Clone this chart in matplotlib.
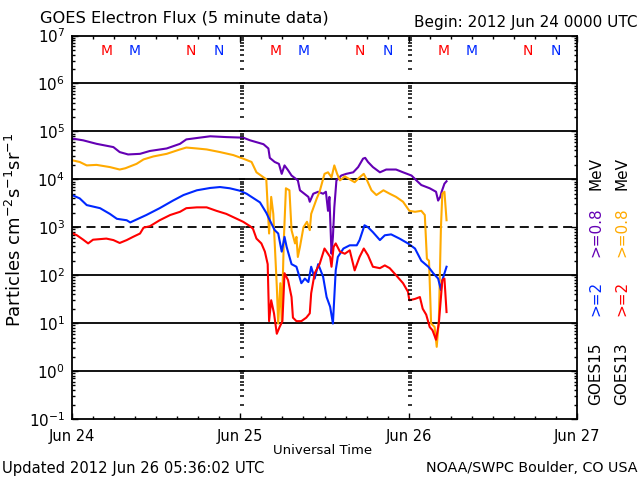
import numpy as np
import matplotlib
matplotlib.use('Agg')
import matplotlib.pyplot as plt
import matplotlib.transforms as mtransforms
from matplotlib.ticker import LogLocator, FixedLocator, MultipleLocator, NullFormatter

# hours after 2012 Jun 24 00:00 UTC, flux in particles cm^-2 s^-1 sr^-1
g15_hi_t = [0, 1.6, 3.5, 5.9, 6.8, 8.0, 9.7, 11.1, 13.5, 15.4, 16.3, 18.2, 19.7, 22.0, 24.4,
            25.4, 27.3, 28.0, 28.2, 28.9, 29.5, 29.9, 30.3, 30.8, 31.3, 32.2, 32.5, 33.7, 33.9,
            34.4, 35.1, 35.8, 36.2, 36.5, 36.7, 37.0, 37.2, 37.4, 37.7, 38.4, 39.1, 40.1, 40.8,
            41.5, 41.8, 42.2, 42.9, 43.9, 44.8, 46.2, 47.2, 48.4, 49.1, 49.8, 51.0, 51.9, 52.2,
            52.5, 52.7, 53.1, 53.4]
g15_hi = [7.1e4, 6.5e4, 5.5e4, 4.7e4, 3.7e4, 3.3e4, 3.4e4, 3.9e4, 4.4e4, 5.5e4, 6.8e4, 7.4e4,
          7.9e4, 7.6e4, 7.4e4, 6.5e4, 5.4e4, 4.4e4, 2.8e4, 2.3e4, 2.1e4, 1.3e4, 1.95e4, 1.55e4,
          1.2e4, 9.5e3, 5.9e3, 4.3e3, 3.4e3, 5.0e3, 5.5e3, 5.0e3, 5.5e3, 2.2e3, 4.3e3, 2.8e2,
          6.3e2, 2.6e3, 9.5e3, 1.2e4, 1.3e4, 1.4e4, 1.8e4, 2.7e4, 2.8e4, 2.3e4, 1.8e4, 1.4e4,
          1.6e4, 1.6e4, 1.4e4, 1.2e4, 9.5e3, 7.6e3, 6.5e3, 5.5e3, 3.6e3, 4.3e3, 5.5e3, 8.1e3,
          9.1e3]

g13_hi_t = [0, 1.1, 2.1, 3.5, 5.4, 6.8, 7.6, 9.2, 10.2, 11.6, 13.5, 15.4, 16.3, 17.8, 19.2,
            21.1, 23.0, 24.4, 25.6, 26.3, 27.7, 28.1, 28.4, 28.7, 29.2, 29.4, 29.7, 29.9, 30.2,
            30.5, 31.0, 31.3, 31.8, 32.0, 32.2, 32.5, 33.0, 33.5, 33.9, 34.1, 34.9, 35.3, 36.0,
            36.5, 37.0, 37.4, 37.8, 38.2, 38.9, 39.6, 40.3, 41.0, 41.6, 42.0, 42.7, 43.4, 44.4,
            45.3, 46.2, 47.2, 48.1, 48.9, 49.8, 50.3, 50.6, 50.9, 51.2, 51.7, 52.0, 52.3, 52.6,
            52.8, 53.1, 53.4]
g13_hi = [2.5e4, 2.3e4, 1.95e4, 2.0e4, 1.8e4, 1.6e4, 1.7e4, 2.1e4, 2.6e4, 3.0e4, 3.4e4, 4.2e4,
          4.6e4, 4.4e4, 4.2e4, 3.7e4, 3.2e4, 2.7e4, 2.3e4, 1.4e4, 1.0e4, 7.4e2, 4.3e3, 1.9e3,
          58, 9.8, 68, 11, 5.4e2, 6.5e3, 5.9e3, 8.7e2, 4.6e2, 6.3e2, 2.4e2, 3.9e2, 1.0e3,
          1.3e3, 8.7e2, 1.9e3, 4.0e3, 5.5e3, 1.3e4, 1.4e4, 1.1e4, 1.95e4, 1.3e4, 9.5e3, 1.15e4,
          1.0e4, 8.7e3, 1.1e4, 1.3e4, 1.0e4, 5.9e3, 4.7e3, 5.9e3, 5.0e3, 4.3e3, 3.4e3, 2.2e3,
          2.1e3, 2.2e3, 1.8e3, 2.2e2, 2.0e2, 9.8, 8.3, 3.2, 11, 1.0e3, 5.0e3, 5.5e3, 1.4e3]

g15_lo_t = [0, 1.1, 2.1, 4.0, 5.4, 6.4, 7.8, 8.3, 9.2, 10.6, 12.5, 14.4, 15.9, 17.8, 19.7,
            21.1, 22.5, 23.9, 24.9, 26.8, 27.7, 28.2, 28.9, 29.4, 29.9, 30.3, 30.6, 31.3, 32.0,
            32.7, 33.2, 33.7, 34.1, 34.6, 35.1, 35.8, 36.3, 36.8, 37.2, 37.6, 37.9, 38.7, 39.6,
            40.6, 41.0, 41.7, 42.2, 42.9, 43.9, 44.6, 45.5, 46.7, 47.9, 48.9, 49.8, 50.8, 51.5,
            52.2, 52.6, 52.8, 53.4]
g15_lo = [4.7e3, 4.0e3, 2.9e3, 2.5e3, 1.9e3, 1.5e3, 1.4e3, 1.26e3, 1.45e3, 1.8e3, 2.5e3,
          3.6e3, 4.7e3, 5.9e3, 6.6e3, 6.9e3, 6.5e3, 5.8e3, 5.0e3, 3.3e3, 2.0e3, 1.4e3, 8.7e2,
          7.4e2, 3.1e2, 6.3e2, 3.9e2, 1.7e2, 1.5e2, 68, 85, 72, 1.5e2, 85, 1.7e2, 93, 35, 22,
          9.8, 1.26e2, 2.4e2, 3.6e2, 4.2e2, 4.2e2, 5.4e2, 1.1e3, 1.0e3, 7.9e2, 5.4e2, 6.8e2,
          7.1e2, 5.8e2, 4.6e2, 3.6e2, 2.0e2, 1.5e2, 1.1e2, 85, 49, 79, 1.5e2]

g13_lo_t = [0, 0.7, 1.6, 2.3, 3.0, 4.9, 5.9, 6.8, 7.8, 8.7, 9.7, 10.2, 11.1, 12.5, 14.0, 15.4,
            16.3, 17.8, 19.2, 20.6, 22.0, 23.5, 24.4, 25.4, 25.8, 26.3, 27.0, 27.5, 27.9, 28.1,
            28.4, 28.8, 29.2, 29.6, 30.0, 30.3, 30.8, 31.3, 31.5, 32.0, 32.7, 33.4, 33.9, 34.1,
            34.6, 35.3, 36.0, 36.5, 36.8, 37.0, 37.3, 37.6, 38.2, 38.9, 39.6, 40.3, 41.0, 41.6,
            42.2, 42.9, 43.9, 44.6, 45.3, 46.2, 47.2, 47.9, 48.1, 48.9, 49.6, 50.0, 50.5, 51.0,
            51.4, 51.9, 52.3, 52.8, 53.1, 53.4]
g13_lo = [7.6e2, 6.8e2, 5.5e2, 4.6e2, 5.5e2, 5.8e2, 5.4e2, 4.7e2, 5.4e2, 6.3e2, 7.4e2, 9.8e2,
          1.05e3, 1.4e3, 1.8e3, 2.1e3, 2.5e3, 2.6e3, 2.6e3, 2.2e3, 1.9e3, 1.5e3, 1.3e3, 1.05e3,
          9.3e2, 5.8e2, 4.6e2, 3.1e2, 1.7e2, 11, 30, 16, 6.0, 8.3, 11, 1.1e2, 79, 35, 13, 11,
          11, 13, 16, 42, 1.1e2, 1.7e2, 3.6e2, 2.8e2, 2.4e2, 1.5e2, 3.9e2, 4.6e2, 3.1e2, 2.8e2,
          3.3e2, 1.26e2, 2.4e2, 3.6e2, 2.6e2, 1.5e2, 1.4e2, 1.6e2, 1.4e2, 1.0e2, 68, 45, 30, 32,
          35, 20, 15, 8.3, 7.1, 4.5, 9.8, 79, 85, 17]

day_labels = ['Jun 24', 'Jun 25', 'Jun 26', 'Jun 27']
# local midnight (M) / noon (N) passes, hour of day
mn_marks = [('M', 5, 'g13'), ('M', 9, 'g15'), ('N', 17, 'g13'), ('N', 21, 'g15')]
mn_days = [0, 1, 2]

c_purple = '#6400b4'
c_orange = '#ffaa00'
c_blue = '#0028ff'
c_red = '#ff0000'
sat_color = {'g13': c_red, 'g15': c_blue}

W, H = 640, 480
fig = plt.figure(figsize=(6.4, 4.8), dpi=100)
ax = fig.add_axes([72 / W, 1 - 419 / H, 505 / W, (419 - 35.5) / H])

ax.plot(g15_hi_t, g15_hi, color=c_purple, lw=1.5)
ax.plot(g13_hi_t, g13_hi, color=c_orange, lw=1.5)
ax.plot(g15_lo_t, g15_lo, color=c_blue, lw=1.5)
ax.plot(g13_lo_t, g13_lo, color=c_red, lw=1.5)

ax.set_yscale('log')
ax.set_ylim(1e-1, 1e7)
ax.set_xlim(0, 72)

for v in [1e6, 1e5, 1e4, 1e2, 1e1, 1e0]:
    ax.axhline(v, color='k', lw=1.3, zorder=1)
ax.axhline(1e3, color='k', lw=1.3, dashes=(5, 3), zorder=1)

# y tick columns drawn at each day boundary
minor_vals = [m * 10.0 ** e for e in range(-1, 7) for m in range(2, 10)]
major_vals = [10.0 ** e for e in range(0, 7)]
for d in [24, 48]:
    ax.plot([d + 0.25] * len(minor_vals), minor_vals, ls='none', marker='_', ms=3.5,
            mew=1.1, color='k')
    ax.plot([d + 0.25] * len(major_vals), major_vals, ls='none', marker='_', ms=4.5,
            mew=1.1, color='k')

ax.yaxis.set_major_locator(LogLocator(base=10, numticks=20))
ax.yaxis.set_minor_locator(LogLocator(base=10, subs=np.arange(2, 10), numticks=20))
ax.yaxis.set_minor_formatter(NullFormatter())
ax.xaxis.set_major_locator(FixedLocator([0, 24, 48, 72]))
ax.set_xticklabels(day_labels)
ax.xaxis.set_minor_locator(MultipleLocator(3))
ax.tick_params(which='both', direction='in', top=True, right=True, width=1.0, color='k')
ax.tick_params(which='major', length=4, labelsize=11, pad=5)
ax.tick_params(axis='x', which='major', labelsize=10.5, pad=7)
ax.tick_params(which='minor', length=2.5)
for s in ax.spines.values():
    s.set_linewidth(1.3)

fig.text(323 / W, 1 - 451 / H, 'Universal Time', ha='center', va='center', fontsize=9.5)
fig.text(15 / W, 1 - 230 / H, r'Particles cm$^{-2}$s$^{-1}$sr$^{-1}$', rotation=90,
         ha='center', va='center', fontsize=13)

# midnight / noon markers
trans = mtransforms.blended_transform_factory(ax.transData, ax.transAxes)
for d in mn_days:
    for letter, hr, sat in mn_marks:
        ax.text(24 * d + hr, 0.96, letter, transform=trans, color=sat_color[sat],
                ha='center', va='center', fontsize=10)

fig.text(40 / W, 1 - 18 / H, 'GOES Electron Flux (5 minute data)', ha='left', va='center',
         fontsize=11.7)
fig.text(638 / W, 1 - 23 / H, 'Begin: 2012 Jun 24 0000 UTC', ha='right', va='center',
         fontsize=11)
fig.text(2 / W, 1 - 468 / H, 'Updated 2012 Jun 26 05:36:02 UTC', ha='left', va='center',
         fontsize=10.6)
fig.text(638 / W, 1 - 468 / H, 'NOAA/SWPC Boulder, CO USA', ha='right', va='center',
         fontsize=10.3)

# satellite / channel key on the right
key = [(596, 'GOES15', 'k', 374), (596, '>=2', c_blue, 298), (596, '>=0.8', c_purple, 232),
       (596, 'MeV', 'k', 173), (622, 'GOES13', 'k', 374), (622, '>=2', c_red, 298),
       (622, '>=0.8', c_orange, 232), (622, 'MeV', 'k', 173)]
for x, txt, col, y in key:
    fig.text(x / W, 1 - y / H, txt, rotation=90, color=col, ha='center', va='center',
             fontsize=11)

fig.savefig('out.png', dpi=100)
